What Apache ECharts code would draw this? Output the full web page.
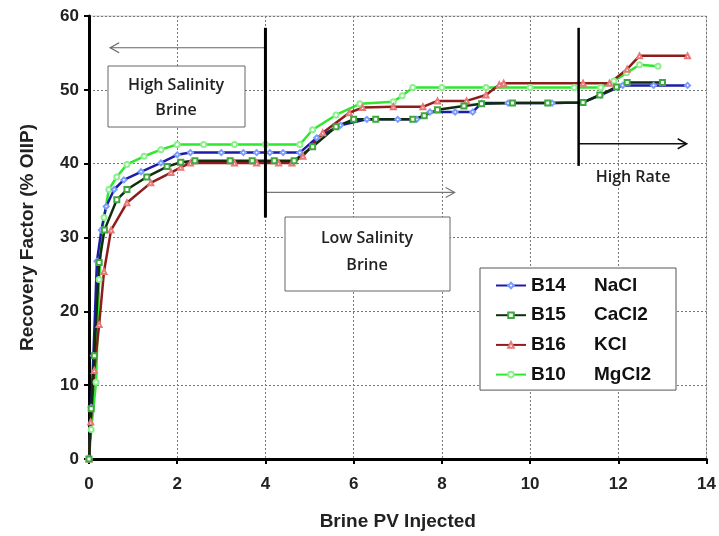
<!DOCTYPE html>
<html>
<head>
<meta charset="utf-8">
<script src="https://cdn.jsdelivr.net/npm/echarts@6/dist/echarts.min.js"></script>
<style>
html,body{margin:0;padding:0;background:#fff;}
#c{width:719px;height:536px;}
</style>
</head>
<body>
<div id="c"></div>
<script>
// ---- data (x = Brine PV injected, y = recovery factor % OIIP) ----
var xTicks = [0, 2, 4, 6, 8, 10, 12, 14];
var yTicks = [0, 10, 20, 30, 40, 50, 60];

var b14NaCl = [[0,0],[0.05,7],[0.1,14],[0.18,26.8],[0.28,31],[0.39,34.2],[0.57,36.5],[0.79,37.8],[1.18,38.9],[1.63,40.1],[2.0,41.2],[2.3,41.5],[3.0,41.5],[3.5,41.5],[3.8,41.5],[4.1,41.5],[4.4,41.5],[4.78,41.5],[5.16,43.5],[5.7,45.2],[6.3,46.0],[7.0,46.0],[7.43,46.0],[7.73,47.0],[8.3,47.0],[8.7,47.0],[8.9,48.2],[9.5,48.2],[10.5,48.2],[11.2,48.3],[11.6,49.3],[12.1,50.6],[12.8,50.6],[13.57,50.6]];

var b15CaCl2 = [[0,0],[0.05,6.8],[0.12,14],[0.23,26.6],[0.35,31],[0.63,35.1],[0.86,36.5],[1.31,38.2],[1.77,39.6],[2.08,40.2],[2.4,40.4],[3.2,40.4],[3.7,40.4],[4.2,40.4],[4.65,40.4],[5.07,42.3],[5.6,45.0],[6.0,46.0],[6.5,46.0],[7.34,46.0],[7.6,46.5],[7.9,47.3],[8.5,47.8],[8.9,48.1],[9.6,48.2],[10.4,48.2],[11.2,48.3],[11.58,49.3],[11.96,50.4],[12.2,51.0],[13.0,51.0]];

var b16KCl = [[0,0],[0.04,5],[0.12,12],[0.23,18.2],[0.34,25.4],[0.5,31],[0.86,34.7],[1.4,37.4],[1.86,38.8],[2.08,39.5],[2.3,40.1],[3.3,40.1],[3.8,40.1],[4.3,40.1],[4.6,40.1],[4.85,41.0],[5.3,44.2],[5.9,46.9],[6.2,47.6],[6.9,47.7],[7.57,47.7],[7.9,48.5],[8.56,48.5],[9.0,49.3],[9.3,50.7],[9.4,50.9],[11.2,50.9],[11.8,50.9],[12.2,52.8],[12.48,54.6],[13.57,54.6]];

var b10MgCl2 = [[0,0],[0.05,4],[0.16,10.4],[0.23,24.3],[0.3,31],[0.34,32.7],[0.45,36.5],[0.63,38.2],[0.86,39.9],[1.25,41.0],[1.63,41.9],[2.0,42.6],[2.6,42.6],[3.3,42.6],[4.0,42.6],[4.78,42.6],[5.07,44.6],[5.6,46.6],[6.14,48.1],[6.9,48.4],[7.1,49.2],[7.34,50.3],[8.0,50.3],[9.0,50.3],[10.0,50.3],[11.0,50.3],[11.6,50.3],[11.9,51.2],[12.19,52.3],[12.48,53.4],[12.9,53.2]];

var seriesNames = ['B14', 'B15', 'B16', 'B10'];
var saltNames = ['NaCl', 'CaCl2', 'KCl', 'MgCl2'];

// annotation anchors (data units)
var highSalinityLine = [[4, 58.4], [4, 32.7]];
var highSalinityArrow = [[4, 55.7], [0.48, 55.7]];
var lowSalinityArrow = [[4, 36.1], [8.29, 36.1]];
var highRateLine = [[11.1, 58.4], [11.1, 39.7]];
var highRateArrow = [[11.1, 42.7], [13.55, 42.7]];

var chart = echarts.init(document.getElementById('c'), null, {renderer: 'canvas'});

function mkSeries(name, data, lineColor, markColor, symbol) {
  return {
    name: name,
    type: 'line',
    data: data,
    symbol: symbol,
    symbolSize: 5,
    showSymbol: true,
    lineStyle: {color: lineColor, width: 2.5},
    itemStyle: {color: markColor, borderColor: markColor, borderWidth: 1},
    emphasis: {disabled: true},
    animation: false
  };
}

var labelMap = {};
for (var i = 0; i < seriesNames.length; i++) labelMap[seriesNames[i]] = saltNames[i];

var option = {
  animation: false,
  backgroundColor: '#fff',
  grid: {left: 89, right: 11, top: 16, bottom: 76, show: true, borderColor: '#c8c8c8', borderWidth: 1},
  xAxis: {
    type: 'value', min: 0, max: 14, interval: 2,
    name: 'Brine PV Injected', nameLocation: 'middle', nameGap: 53,
    nameTextStyle: {fontFamily: 'Liberation Sans', fontWeight: 'bold', fontSize: 19, color: '#222'},
    axisLine: {show: true, lineStyle: {color: '#000', width: 3}},
    axisTick: {show: true, length: 5, lineStyle: {color: '#000', width: 2}},
    axisLabel: {margin: 17, fontFamily: 'Liberation Sans', fontWeight: 'bold', fontSize: 17, color: '#222',
      formatter: function (v) { return xTicks.indexOf(v) >= 0 ? String(v) : ''; }},
    splitLine: {show: true, lineStyle: {color: '#777', width: 1, type: [2, 2]}}
  },
  yAxis: {
    type: 'value', min: 0, max: 60, interval: 10,
    name: 'Recovery Factor (% OIIP)', nameLocation: 'middle', nameGap: 52,
    nameTextStyle: {fontFamily: 'Liberation Sans', fontWeight: 'bold', fontSize: 19, color: '#222'},
    axisLine: {show: true, lineStyle: {color: '#000', width: 3}},
    axisTick: {show: true, length: 5, lineStyle: {color: '#000', width: 2}},
    axisLabel: {margin: 10, fontFamily: 'Liberation Sans', fontWeight: 'bold', fontSize: 17, color: '#222',
      formatter: function (v) { return yTicks.indexOf(v) >= 0 ? String(v) : ''; }},
    splitLine: {show: true, lineStyle: {color: '#777', width: 1, type: [2, 2]}}
  },
  legend: {
    data: seriesNames,
    orient: 'vertical',
    left: 480, top: 268,
    padding: [8, 12, 6, 15],
    itemWidth: 30, itemHeight: 7, itemGap: 10.7,
    backgroundColor: '#fff',
    borderColor: '#555', borderWidth: 1,
    selectedMode: false,
    formatter: function (n) { return '{a|' + n + '}{b|' + labelMap[n] + '}'; },
    textStyle: {
      rich: {
        a: {width: 63, lineHeight: 20, fontFamily: 'Liberation Sans', fontWeight: 'bold', fontSize: 19, color: '#111'},
        b: {width: 70, lineHeight: 20, fontFamily: 'Liberation Sans', fontWeight: 'bold', fontSize: 19, color: '#111'}
      }
    }
  },
  series: [
    mkSeries('B10', b10MgCl2, '#2ee82e', '#8cf08c', 'emptyCircle'),
    mkSeries('B14', b14NaCl, '#1c1ca8', '#7a9cff', 'emptyDiamond'),
    mkSeries('B16', b16KCl, '#8e1c1c', '#e87878', 'emptyTriangle'),
    mkSeries('B15', b15CaCl2, '#0e2e0e', '#3ea83e', 'emptyRect')
  ]
};
chart.setOption(option);

function px(p) { return chart.convertToPixel({gridIndex: 0}, p); }
function lineEl(a, b, color, w) {
  var p1 = px(a), p2 = px(b);
  return {type: 'line', shape: {x1: p1[0], y1: p1[1], x2: p2[0], y2: p2[1]}, style: {stroke: color, lineWidth: w}, z: 50};
}
function arrowHead(a, b, color, w) {
  var p1 = px(a), p2 = px(b);
  var dir = p2[0] > p1[0] ? -1 : 1;
  return {type: 'polyline', shape: {points: [[p2[0] + dir * 9, p2[1] - 5], [p2[0], p2[1]], [p2[0] + dir * 9, p2[1] + 5]]},
    style: {stroke: color, lineWidth: w, fill: null}, z: 50};
}
function box(x, y, w, h) {
  return {type: 'rect', shape: {x: x, y: y, width: w, height: h}, style: {fill: '#fff', stroke: '#666', lineWidth: 1}, z: 40};
}
function label(text, x, y, size) {
  return {type: 'text', x: x, y: y, style: {text: text, fill: '#222', font: '600 ' + size + 'px "Open Sans", Lato, sans-serif', align: 'center', verticalAlign: 'middle'}, z: 60};
}

var graphics = [
  box(108, 66, 137, 61),
  label('High Salinity', 176, 85, 16),
  label('Brine', 176, 110, 16),
  box(285, 217, 165, 74),
  label('Low Salinity', 367, 238, 16),
  label('Brine', 367, 265, 16),
  label('High Rate', 633, 177, 16),
  lineEl(highSalinityArrow[0], highSalinityArrow[1], '#666', 1.2),
  arrowHead(highSalinityArrow[0], highSalinityArrow[1], '#666', 1.2),
  lineEl(lowSalinityArrow[0], lowSalinityArrow[1], '#777', 1.2),
  arrowHead(lowSalinityArrow[0], lowSalinityArrow[1], '#777', 1.2),
  lineEl(highRateArrow[0], highRateArrow[1], '#111', 1.5),
  arrowHead(highRateArrow[0], highRateArrow[1], '#111', 1.5),
  lineEl(highSalinityLine[0], highSalinityLine[1], '#000', 3),
  lineEl(highRateLine[0], highRateLine[1], '#000', 2.5)
];
chart.setOption({graphic: graphics});
</script>
</body>
</html>
